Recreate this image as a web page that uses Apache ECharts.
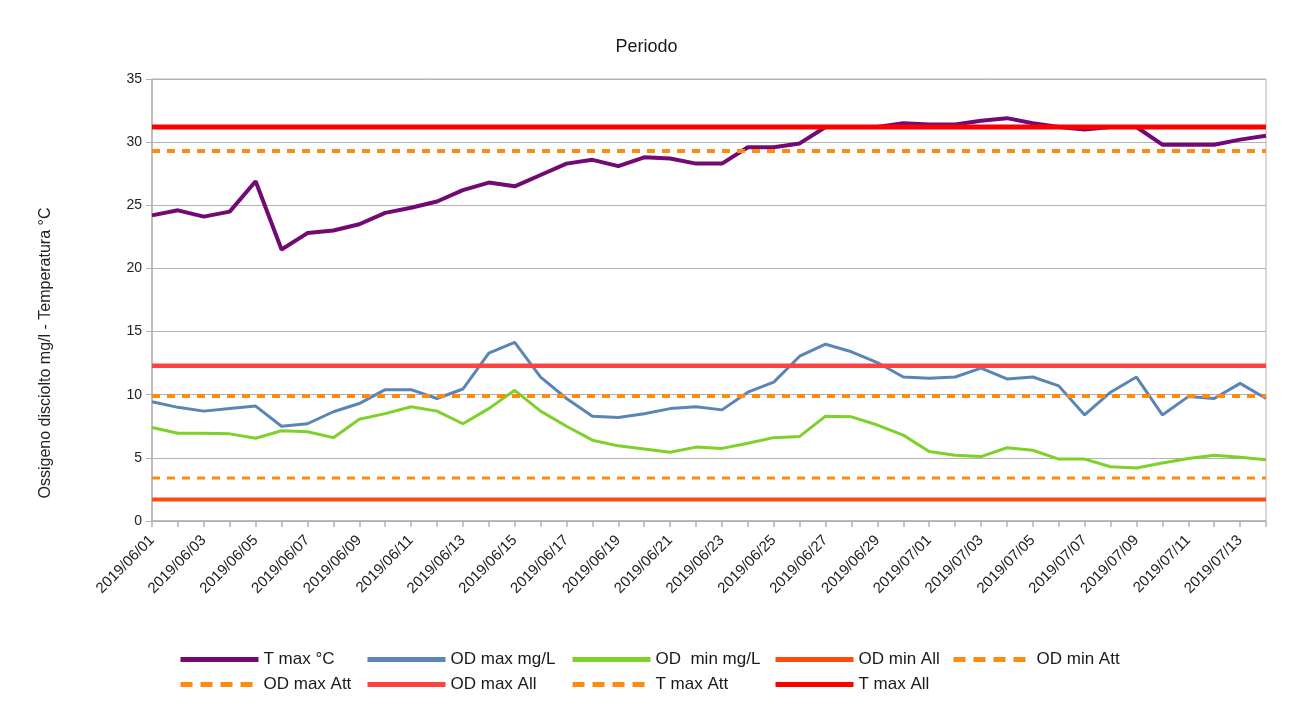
<!DOCTYPE html>
<html>
<head>
<meta charset="utf-8">
<title>Periodo</title>
<script src="https://cdn.jsdelivr.net/npm/echarts@6/dist/echarts.min.js"></script>
<style>
  html, body { margin: 0; padding: 0; background: #fff; }
  #chart { width: 1293px; height: 716px; }
</style>
</head>
<body>
<div id="chart"></div>
<script>
// dates 2019/06/01 .. 2019/07/14
const dates = [
  '2019/06/01', '2019/06/02', '2019/06/03', '2019/06/04', '2019/06/05', '2019/06/06',
  '2019/06/07', '2019/06/08', '2019/06/09', '2019/06/10', '2019/06/11', '2019/06/12',
  '2019/06/13', '2019/06/14', '2019/06/15', '2019/06/16', '2019/06/17', '2019/06/18',
  '2019/06/19', '2019/06/20', '2019/06/21', '2019/06/22', '2019/06/23', '2019/06/24',
  '2019/06/25', '2019/06/26', '2019/06/27', '2019/06/28', '2019/06/29', '2019/06/30',
  '2019/07/01', '2019/07/02', '2019/07/03', '2019/07/04', '2019/07/05', '2019/07/06',
  '2019/07/07', '2019/07/08', '2019/07/09', '2019/07/10', '2019/07/11', '2019/07/12',
  '2019/07/13', '2019/07/14'
];

const tMax = [
  24.2, 24.6, 24.1, 24.5, 26.9, 21.5, 22.8, 23.0, 23.5, 24.4, 24.8, 25.3,
  26.2, 26.8, 26.5, 27.4, 28.3, 28.6, 28.1, 28.8, 28.7, 28.3, 28.3, 29.6,
  29.6, 29.9, 31.2, 31.2, 31.2, 31.5, 31.4, 31.4, 31.7, 31.9, 31.5, 31.2,
  31.0, 31.2, 31.2, 29.8, 29.8, 29.8, 30.2, 30.5
];

const odMax = [
  9.45, 9.0, 8.7, 8.9, 9.1, 7.5, 7.7, 8.65, 9.3, 10.4, 10.4, 9.7,
  10.45, 13.3, 14.15, 11.4, 9.7, 8.3, 8.2, 8.5, 8.9, 9.05, 8.8, 10.2,
  11.0, 13.05, 14.0, 13.4, 12.55, 11.4, 11.3, 11.4, 12.1, 11.25, 11.4, 10.7,
  8.4, 10.2, 11.4, 8.4, 9.85, 9.7, 10.9, 9.7
];

const odMin = [
  7.4, 6.95, 6.95, 6.9, 6.55, 7.15, 7.07, 6.6, 8.05, 8.5, 9.05, 8.7,
  7.7, 8.9, 10.35, 8.7, 7.5, 6.4, 5.95, 5.7, 5.45, 5.85, 5.75, 6.15,
  6.6, 6.7, 8.3, 8.25, 7.6, 6.8, 5.5, 5.2, 5.1, 5.8, 5.6, 4.9,
  4.9, 4.3, 4.2, 4.6, 4.95, 5.2, 5.05, 4.85
];

// threshold lines (constant over the period)
const limitNames = ['OD min All', 'OD min Att', 'OD max Att', 'OD max All', 'T max Att', 'T max All'];
const limitValues = [1.7, 3.4, 9.9, 12.3, 29.3, 31.2];

const yTicks = [0, 5, 10, 15, 20, 25, 30, 35];

const FONT = '"Liberation Sans", Arial, sans-serif';
const chart = echarts.init(document.getElementById('chart'));

const mainSeries = [
  { name: 'T max °C', data: tMax, color: '#730a73', width: 4 },
  { name: 'OD max mg/L', data: odMax, color: '#5a85b5', width: 3 },
  { name: 'OD  min mg/L', data: odMin, color: '#7ed129', width: 3 }
];

const limitStyles = [
  { color: '#ff4a10', width: 4, type: 'solid' },
  { color: '#ff8a12', width: 3, type: [8, 7] },
  { color: '#ff8a12', width: 4, type: [8, 7] },
  { color: '#ff4343', width: 4.5, type: 'solid' },
  { color: '#ff8a12', width: 4, type: [8, 7] },
  { color: '#ff0000', width: 5, type: 'solid' }
];

const series = mainSeries.map(s => ({
  name: s.name,
  type: 'line',
  data: s.data,
  symbol: 'none',
  color: s.color,
  lineStyle: { color: s.color, width: s.width },
  silent: true
})).concat(limitNames.map((name, i) => ({
  name: name,
  type: 'line',
  data: dates.map(() => limitValues[i]),
  symbol: 'none',
  color: limitStyles[i].color,
  lineStyle: { color: limitStyles[i].color, width: limitStyles[i].width, type: limitStyles[i].type },
  silent: true
})));

// legend is laid out as a table in the reference: one legend per cell
const legendNames = ['T max °C', 'OD max mg/L', 'OD  min mg/L', 'OD min All', 'OD min Att',
  'OD max Att', 'OD max All', 'T max Att', 'T max All'];
const legendLeft = [178, 365, 570, 773, 951, 178, 365, 570, 773];
const legendTop = [651, 651, 651, 651, 651, 676, 676, 676, 676];
const legendDash = {
  'OD min Att': [12, 8], 'OD max Att': [12, 8], 'T max Att': [12, 8]
};

const legends = legendNames.map((name, i) => ({
  data: [name],
  left: legendLeft[i],
  top: legendTop[i],
  padding: 0,
  itemWidth: 78,
  itemHeight: 14,
  selectedMode: false,
  itemStyle: { opacity: 0 },
  lineStyle: { width: 5, type: legendDash[name] || 'solid' },
  textStyle: { fontFamily: FONT, fontSize: 17, color: '#1a1a1a' }
}));

chart.setOption({
  animation: false,
  backgroundColor: '#fff',
  title: {
    text: 'Periodo',
    left: 'center',
    top: 33,
    textStyle: { fontFamily: FONT, fontSize: 18, fontWeight: 'normal', color: '#1a1a1a' }
  },
  legend: legends,
  grid: {
    left: 152, right: 27, top: 79, bottom: 195,
    show: true, borderColor: '#b3b3b3', borderWidth: 1
  },
  xAxis: {
    type: 'category',
    data: dates,
    boundaryGap: false,
    axisLine: { lineStyle: { color: '#b3b3b3', width: 1.5 } },
    axisTick: { show: true, interval: 0, length: 6, lineStyle: { color: '#b3b3b3', width: 1.5 } },
    axisLabel: {
      interval: 1,
      rotate: 45,
      margin: 17,
      fontFamily: FONT,
      fontSize: 15,
      color: '#222'
    }
  },
  yAxis: {
    type: 'value',
    min: yTicks[0],
    max: yTicks[yTicks.length - 1],
    interval: 5,
    axisLine: { show: true, lineStyle: { color: '#b3b3b3', width: 1.5 } },
    axisTick: { show: true, length: 6, lineStyle: { color: '#b3b3b3' } },
    splitLine: { lineStyle: { color: '#b3b3b3', width: 1 } },
    axisLabel: { margin: 10, fontFamily: FONT, fontSize: 14, color: '#222' }
  },
  graphic: [{
    type: 'text',
    x: 46,
    y: 353,
    rotation: Math.PI / 2,
    style: {
      text: 'Ossigeno disciolto mg/l - Temperatura °C',
      fontFamily: FONT,
      fontSize: 16,
      fill: '#222',
      align: 'center',
      verticalAlign: 'middle'
    }
  }],
  series: series
});

window.addEventListener('resize', () => chart.resize());
</script>
</body>
</html>
